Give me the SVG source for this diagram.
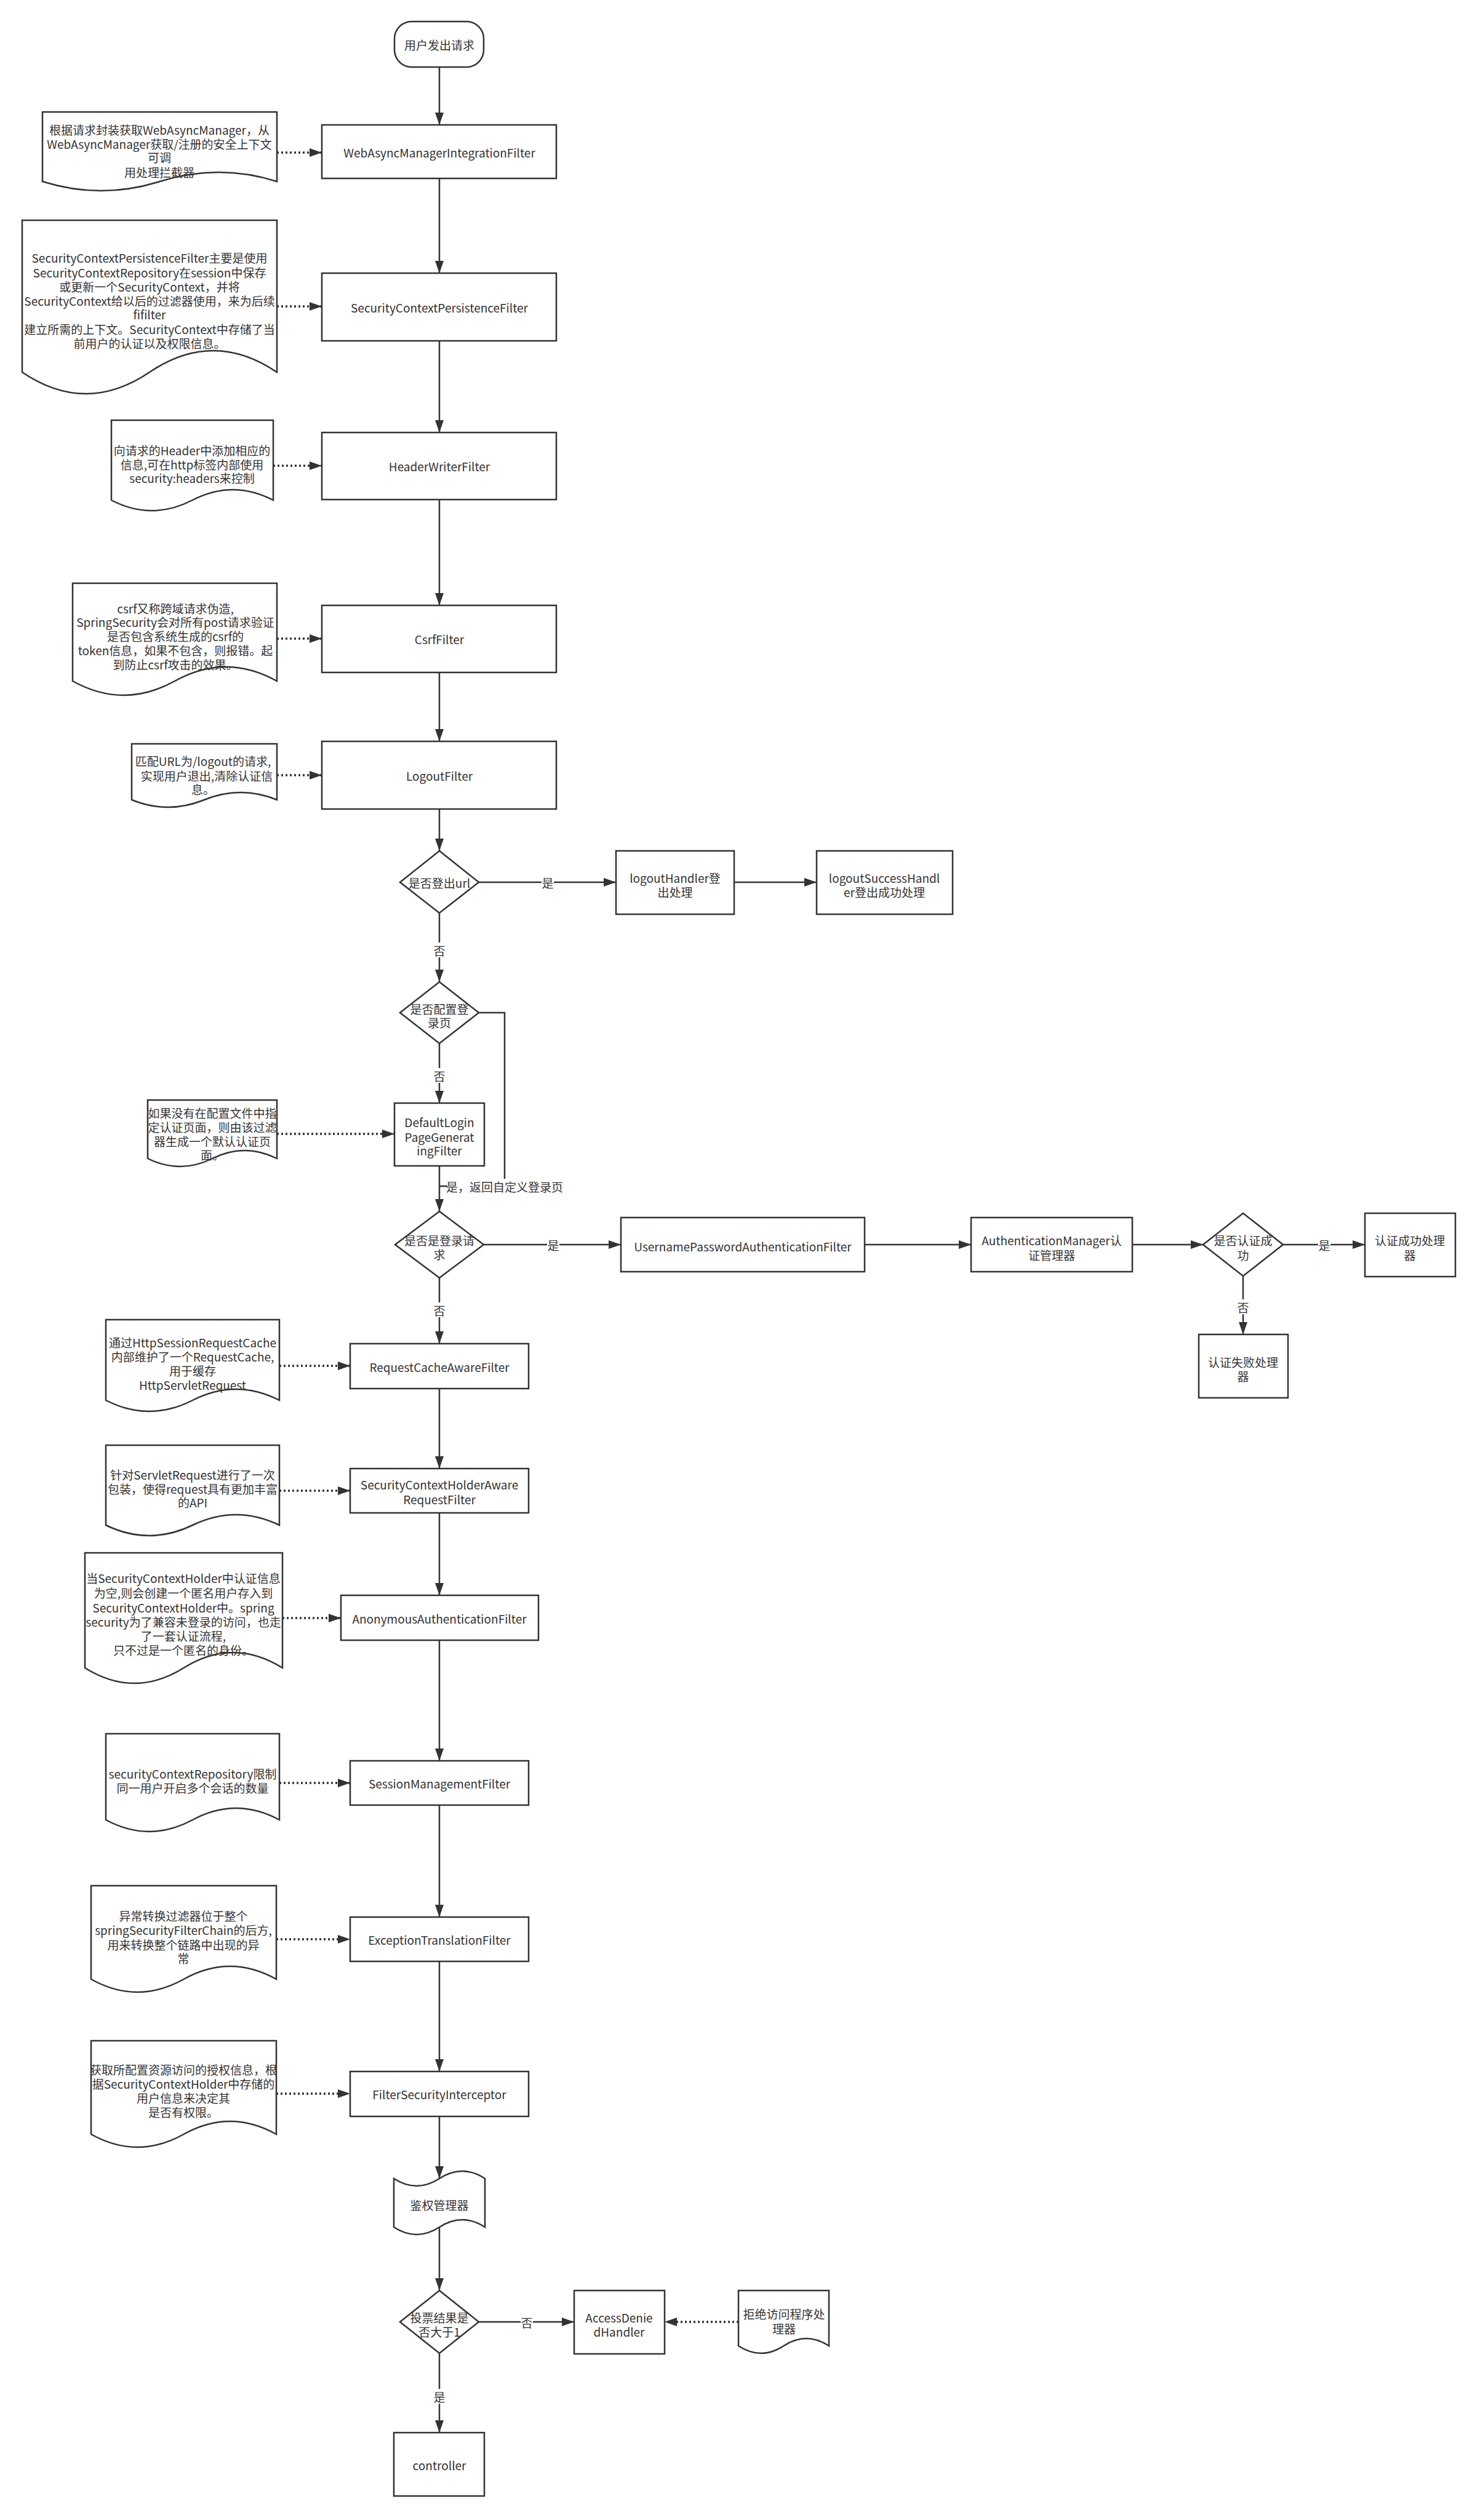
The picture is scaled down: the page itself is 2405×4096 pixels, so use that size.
<svg xmlns="http://www.w3.org/2000/svg" width="2405" height="4096" viewBox="0 0 2405 4096">
<style>
.s{fill:#fff;stroke:#333;stroke-width:2.5}
.t{font-family:"Noto Sans CJK SC","Liberation Sans",sans-serif;font-size:19px;fill:#333;text-anchor:middle;dominant-baseline:central}
.c{fill:none;stroke:#333;stroke-width:2.5}
.a{marker-end:url(#ah)}
.d{fill:none;stroke:#333;stroke-width:3.5;stroke-dasharray:3 4;marker-end:url(#ah)}
.lb{fill:#fff;stroke:none}
</style>
<defs>
<marker id="ah" markerUnits="userSpaceOnUse" markerWidth="22" markerHeight="16" refX="20" refY="7" orient="auto" viewBox="0 0 22 16" overflow="visible">
<path d="M0,0 L20,7 L0,14 Z" fill="#333" stroke="none"/>
</marker>
</defs>
<rect x="0" y="0" width="2405" height="4096" fill="#fff"/>

<g id="connectors">
<path class="c a" d="M714,109 V203"/>
<path class="c a" d="M714,290 V444"/>
<path class="c a" d="M714,554 V703"/>
<path class="c a" d="M714,812 V984"/>
<path class="c a" d="M714,1093 V1205"/>
<path class="c a" d="M714,1315 V1383"/>
<path class="c a" d="M778,1434 H1001"/>
<path class="c a" d="M1193,1434 H1327"/>
<path class="c a" d="M714,1484 V1596"/>
<path class="c a" d="M714,1696 V1793"/>
<path class="c" d="M778,1646 H820 V1928 H714"/>
<path class="c a" d="M714,1895 V1969"/>
<path class="c a" d="M786,2023 H1009"/>
<path class="c a" d="M1405,2023 H1578"/>
<path class="c a" d="M1840,2023 H1955"/>
<path class="c a" d="M2085,2023 H2218"/>
<path class="c a" d="M2020,2074 V2169"/>
<path class="c a" d="M714,2077 V2184"/>
<path class="c a" d="M714,2257 V2387"/>
<path class="c a" d="M714,2459 V2593"/>
<path class="c a" d="M714,2666 V2862"/>
<path class="c a" d="M714,2934 V3116"/>
<path class="c a" d="M714,3188 V3367"/>
<path class="c a" d="M714,3440 V3541"/>
<path class="c a" d="M714,3620 V3723"/>
<path class="c a" d="M778,3774 H933"/>
<path class="c a" d="M714,3825 V3954"/>
<path class="d" d="M450,248 H523"/>
<path class="d" d="M450,498 H523"/>
<path class="d" d="M444,757 H523"/>
<path class="d" d="M450,1038 H523"/>
<path class="d" d="M450,1260 H523"/>
<path class="d" d="M450,1843 H641"/>
<path class="d" d="M454,2220 H569"/>
<path class="d" d="M454,2423 H569"/>
<path class="d" d="M459,2630 H554"/>
<path class="d" d="M454,2898 H569"/>
<path class="d" d="M449,3152 H569"/>
<path class="d" d="M449,3403 H569"/>
<path class="d" d="M1200,3774 H1080"/>
<g id="edge-labels">
<rect class="lb" x="880" y="1422" width="20" height="24"/><text class="t" x="890" y="1434">是</text>
<rect class="lb" x="704" y="1532" width="20" height="24"/><text class="t" x="714" y="1544">否</text>
<rect class="lb" x="704" y="1736" width="20" height="24"/><text class="t" x="714" y="1748">否</text>
<rect class="lb" x="727" y="1916" width="186" height="24"/><text class="t" x="820" y="1928">是，返回自定义登录页</text>
<rect class="lb" x="889" y="2011" width="20" height="24"/><text class="t" x="899" y="2023">是</text>
<rect class="lb" x="2142" y="2011" width="20" height="24"/><text class="t" x="2152" y="2023">是</text>
<rect class="lb" x="2010" y="2112" width="20" height="24"/><text class="t" x="2020" y="2124">否</text>
<rect class="lb" x="704" y="2117" width="20" height="24"/><text class="t" x="714" y="2129">否</text>
<rect class="lb" x="846" y="3762" width="20" height="24"/><text class="t" x="856" y="3774">否</text>
<rect class="lb" x="704" y="3883" width="20" height="24"/><text class="t" x="714" y="3895">是</text>
</g>
</g>

<g id="start"><rect class="s" x="641" y="35" width="145" height="74" rx="28" ry="28"/><text class="t" x="714" y="72">用户发出请求</text></g>

<g id="webasync"><rect class="s" x="523" y="203" width="381" height="87"/><text class="t" x="714" y="247">WebAsyncManagerIntegrationFilter</text></g>
<g id="note1"><path class="s" d="M69,182 H450 V295 Q355.75,265 259.5,295 Q164.25,325 69,295 Z"/>
<text class="t"><tspan x="259" y="210">根据请求封装获取WebAsyncManager，从</tspan><tspan x="259" y="233">WebAsyncManager获取/注册的安全上下文</tspan><tspan x="259" y="255">可调</tspan><tspan x="259" y="279">用处理拦截器</tspan></text></g>

<g id="secpersist"><rect class="s" x="523" y="444" width="381" height="110"/><text class="t" x="714" y="499">SecurityContextPersistenceFilter</text></g>
<g id="note2"><path class="s" d="M36,358 H450 V605 Q346.5,535 243,605 Q139.5,675 36,605 Z"/>
<text class="t"><tspan x="243" y="418">SecurityContextPersistenceFilter主要是使用</tspan><tspan x="243" y="442">SecurityContextRepository在session中保存</tspan><tspan x="243" y="465">或更新一个SecurityContext，并将</tspan><tspan x="243" y="488">SecurityContext给以后的过滤器使用，来为后续</tspan><tspan x="243" y="510">fifilter</tspan><tspan x="243" y="534">建立所需的上下文。SecurityContext中存储了当</tspan><tspan x="243" y="557">前用户的认证以及权限信息。</tspan></text></g>

<g id="headerwriter"><rect class="s" x="523" y="703" width="381" height="109"/><text class="t" x="714" y="757">HeaderWriterFilter</text></g>
<g id="note3"><path class="s" d="M181,683 H444 V813 Q378.25,779 312.5,813 Q246.75,847 181,813 Z"/>
<text class="t"><tspan x="312" y="731">向请求的Header中添加相应的</tspan><tspan x="312" y="754">信息,可在http标签内部使用</tspan><tspan x="312" y="776">security:headers来控制</tspan></text></g>

<g id="csrf"><rect class="s" x="523" y="984" width="381" height="109"/><text class="t" x="714" y="1038">CsrfFilter</text></g>
<g id="note4"><path class="s" d="M118,948 H450 V1107 Q367,1061 284,1107 Q201,1153 118,1107 Z"/>
<text class="t"><tspan x="285" y="988">csrf又称跨域请求伪造,</tspan><tspan x="285" y="1010">SpringSecurity会对所有post请求验证</tspan><tspan x="285" y="1033">是否包含系统生成的csrf的</tspan><tspan x="285" y="1056">token信息，如果不包含，则报错。起</tspan><tspan x="285" y="1079">到防止csrf攻击的效果。</tspan></text></g>

<g id="logout"><rect class="s" x="523" y="1205" width="381" height="110"/><text class="t" x="714" y="1260">LogoutFilter</text></g>
<g id="note5"><path class="s" d="M214,1209 H450 V1300 Q391,1276 332,1300 Q273,1324 214,1300 Z"/>
<text class="t"><tspan x="330" y="1236">匹配URL为/logout的请求,</tspan><tspan x="336" y="1260">实现用户退出,清除认证信</tspan><tspan x="330" y="1282">息。</tspan></text></g>

<g id="d-logout"><polygon class="s" points="714,1383 778,1434 714,1484 650,1434"/><text class="t" x="714" y="1434">是否登出url</text></g>
<g id="logouthandler"><rect class="s" x="1001" y="1383" width="192" height="103"/><text class="t"><tspan x="1097" y="1426">logoutHandler登</tspan><tspan x="1097" y="1449">出处理</tspan></text></g>
<g id="logoutsuccess"><rect class="s" x="1327" y="1383" width="221" height="103"/><text class="t"><tspan x="1437" y="1426">logoutSuccessHandl</tspan><tspan x="1437" y="1449">er登出成功处理</tspan></text></g>

<g id="d-loginpage"><polygon class="s" points="714,1596 778,1646 714,1696 650,1646"/><text class="t"><tspan x="714" y="1639">是否配置登</tspan><tspan x="714" y="1661">录页</tspan></text></g>
<g id="defaultlogin"><rect class="s" x="641" y="1793" width="146" height="102"/><text class="t"><tspan x="714" y="1823">DefaultLogin</tspan><tspan x="714" y="1847">PageGenerat</tspan><tspan x="714" y="1869">ingFilter</tspan></text></g>
<g id="note6"><path class="s" d="M240,1788 H450 V1883 Q397.5,1857 345,1883 Q292.5,1909 240,1883 Z"/>
<text class="t"><tspan x="345" y="1808">如果没有在配置文件中指</tspan><tspan x="345" y="1831">定认证页面，则由该过滤</tspan><tspan x="345" y="1854">器生成一个默认认证页</tspan><tspan x="345" y="1876">面。</tspan></text></g>

<g id="d-loginreq"><polygon class="s" points="714,1969 786,2023 714,2077 642,2023"/><text class="t"><tspan x="714" y="2015">是否是登录请</tspan><tspan x="714" y="2038">求</tspan></text></g>
<g id="userpass"><rect class="s" x="1009" y="1979" width="396" height="88"/><text class="t" x="1207" y="2025">UsernamePasswordAuthenticationFilter</text></g>
<g id="authmanager"><rect class="s" x="1578" y="1979" width="262" height="88"/><text class="t"><tspan x="1709" y="2015">AuthenticationManager认</tspan><tspan x="1709" y="2039">证管理器</tspan></text></g>
<g id="d-authok"><polygon class="s" points="2020,1972 2085,2023 2020,2074 1955,2023"/><text class="t"><tspan x="2020" y="2015">是否认证成</tspan><tspan x="2020" y="2039">功</tspan></text></g>
<g id="authsuccess"><rect class="s" x="2218" y="1972" width="147" height="103"/><text class="t"><tspan x="2291" y="2015">认证成功处理</tspan><tspan x="2291" y="2039">器</tspan></text></g>
<g id="authfail"><rect class="s" x="1948" y="2169" width="145" height="103"/><text class="t"><tspan x="2020" y="2213">认证失败处理</tspan><tspan x="2020" y="2236">器</tspan></text></g>

<g id="requestcache"><rect class="s" x="569" y="2184" width="290" height="73"/><text class="t" x="714" y="2221">RequestCacheAwareFilter</text></g>
<g id="note7"><path class="s" d="M172,2145 H454 V2276 Q383.5,2240 313,2276 Q242.5,2312 172,2276 Z"/>
<text class="t"><tspan x="313" y="2181">通过HttpSessionRequestCache</tspan><tspan x="313" y="2204">内部维护了一个RequestCache,</tspan><tspan x="313" y="2227">用于缓存</tspan><tspan x="313" y="2250">HttpServletRequest</tspan></text></g>

<g id="schaware"><rect class="s" x="569" y="2387" width="290" height="72"/><text class="t"><tspan x="714" y="2412">SecurityContextHolderAware</tspan><tspan x="714" y="2436">RequestFilter</tspan></text></g>
<g id="note8"><path class="s" d="M172,2349 H454 V2479 Q383.5,2445 313,2479 Q242.5,2513 172,2479 Z"/>
<text class="t"><tspan x="313" y="2396">针对ServletRequest进行了一次</tspan><tspan x="313" y="2419">包装，使得request具有更加丰富</tspan><tspan x="313" y="2441">的API</tspan></text></g>

<g id="anonymous"><rect class="s" x="554" y="2593" width="321" height="73"/><text class="t" x="714" y="2630">AnonymousAuthenticationFilter</text></g>
<g id="note9"><path class="s" d="M138,2524 H459 V2711 Q378.75,2661 298.5,2711 Q218.25,2761 138,2711 Z"/>
<text class="t"><tspan x="298" y="2564">当SecurityContextHolder中认证信息</tspan><tspan x="298" y="2588">为空,则会创建一个匿名用户存入到</tspan><tspan x="298" y="2612">SecurityContextHolder中。spring</tspan><tspan x="298" y="2635">security为了兼容未登录的访问，也走</tspan><tspan x="298" y="2658">了一套认证流程,</tspan><tspan x="298" y="2681">只不过是一个匿名的身份。</tspan></text></g>

<g id="sessionmgmt"><rect class="s" x="569" y="2862" width="290" height="72"/><text class="t" x="714" y="2898">SessionManagementFilter</text></g>
<g id="note10"><path class="s" d="M172,2818 H454 V2958 Q383.5,2920 313,2958 Q242.5,2996 172,2958 Z"/>
<text class="t"><tspan x="313" y="2882">securityContextRepository限制</tspan><tspan x="313" y="2905">同一用户开启多个会话的数量</tspan></text></g>

<g id="exceptiontrans"><rect class="s" x="569" y="3116" width="290" height="72"/><text class="t" x="714" y="3152">ExceptionTranslationFilter</text></g>
<g id="note11"><path class="s" d="M148,3065 H449 V3217 Q373.75,3175 298.5,3217 Q223.25,3259 148,3217 Z"/>
<text class="t"><tspan x="298" y="3113">异常转换过滤器位于整个</tspan><tspan x="298" y="3136">springSecurityFilterChain的后方,</tspan><tspan x="298" y="3160">用来转换整个链路中出现的异</tspan><tspan x="298" y="3182">常</tspan></text></g>

<g id="fsi"><rect class="s" x="569" y="3367" width="290" height="73"/><text class="t" x="714" y="3403">FilterSecurityInterceptor</text></g>
<g id="note12"><path class="s" d="M148,3317 H449 V3469 Q373.75,3427 298.5,3469 Q223.25,3511 148,3469 Z"/>
<text class="t"><tspan x="298" y="3363">获取所配置资源访问的授权信息，根</tspan><tspan x="298" y="3386">据SecurityContextHolder中存储的</tspan><tspan x="298" y="3409">用户信息来决定其</tspan><tspan x="298" y="3432">是否有权限。</tspan></text></g>

<g id="accessdecision"><path class="s" d="M640,3541 Q677,3565 714,3541 Q751,3517 788,3541 L788,3620 Q751,3596 714,3620 Q677,3644 640,3620 Z"/><text class="t" x="714" y="3583">鉴权管理器</text></g>

<g id="d-vote"><polygon class="s" points="714,3723 778,3774 714,3825 650,3774"/><text class="t"><tspan x="714" y="3766">投票结果是</tspan><tspan x="714" y="3789">否大于1</tspan></text></g>
<g id="accessdenied"><rect class="s" x="933" y="3723" width="147" height="103"/><text class="t"><tspan x="1006" y="3766">AccessDenie</tspan><tspan x="1006" y="3789">dHandler</tspan></text></g>
<g id="note13"><path class="s" d="M1200,3723 H1347 V3813 Q1310.25,3789 1273.5,3813 Q1236.75,3837 1200,3813 Z"/>
<text class="t"><tspan x="1274" y="3760">拒绝访问程序处</tspan><tspan x="1274" y="3784">理器</tspan></text></g>
<g id="controller"><rect class="s" x="640" y="3954" width="147" height="103"/><text class="t" x="714" y="4006">controller</text></g>
</svg>
